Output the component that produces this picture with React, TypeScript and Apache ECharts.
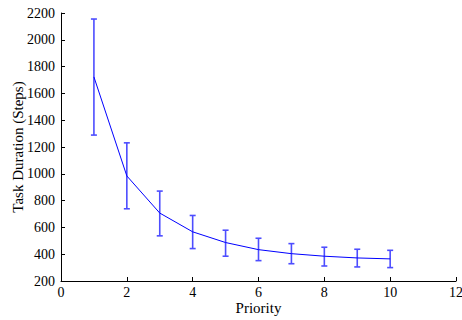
import React, { useEffect, useRef } from "react";
import * as echarts from "echarts";

const priorities = [1, 2, 3, 4, 5, 6, 7, 8, 9, 10];
const meanSteps = [1723, 984, 707, 567, 487, 434, 404, 385, 372, 365];
const upperSteps = [2155, 1231, 871, 689, 579, 519, 479, 452, 437, 429];
const lowerSteps = [1289, 739, 537, 442, 385, 352, 329, 312, 305, 300];

const FONT = "'Liberation Serif', 'DejaVu Serif', serif";

export default function App() {
  const ref = useRef<HTMLDivElement>(null);
  useEffect(() => {
    if (!ref.current) return;
    const chart = echarts.init(ref.current, undefined, { renderer: "svg" });
    const lineData = priorities.map((p, i) => [p, meanSteps[i]]);
    const errData = priorities.map((p, i) => [p, lowerSteps[i], upperSteps[i]]);
    chart.setOption({
      animation: false,
      textStyle: { fontFamily: FONT },
      grid: { left: 61, right: 6, top: 13, bottom: 39, outerBoundsMode: "none", containLabel: false },
      xAxis: {
        type: "value",
        min: 0,
        max: 12,
        interval: 2,
        name: "Priority",
        nameLocation: "middle",
        nameGap: 19,
        nameMoveOverlap: false,
        nameTextStyle: { fontFamily: FONT, fontSize: 15, color: "#000", verticalAlign: "top" },
        axisLine: { show: true, lineStyle: { color: "#000", width: 1 } },
        axisTick: { show: true, inside: true, length: 4, lineStyle: { color: "#000" } },
        axisLabel: { fontFamily: FONT, fontSize: 14, color: "#000", margin: 4, formatter: (v: number) => String(v) },
        splitLine: { show: false },
      },
      yAxis: {
        type: "value",
        min: 200,
        max: 2200,
        interval: 200,
        name: "Task Duration (Steps)",
        nameLocation: "middle",
        nameGap: 43,
        nameMoveOverlap: false,
        nameTextStyle: { fontFamily: FONT, fontSize: 15, color: "#000", verticalAlign: "middle" },
        axisLine: { show: true, lineStyle: { color: "#000", width: 1 } },
        axisTick: { show: true, inside: true, length: 4, lineStyle: { color: "#000" } },
        axisLabel: { fontFamily: FONT, fontSize: 14, color: "#000", margin: 6, formatter: (v: number) => String(v) },
        splitLine: { show: false },
      },
      series: [
        {
          type: "line",
          data: lineData,
          symbol: "none",
          lineStyle: { color: "#0000ff", width: 1 },
          z: 3,
        },
        {
          type: "custom",
          data: errData,
          z: 2,
          renderItem: (params: any, api: any) => {
            const x = api.value(0);
            const lo = api.coord([x, api.value(1)]);
            const hi = api.coord([x, api.value(2)]);
            const cap = 3;
            const style = { stroke: "#4d4dff", lineWidth: 1.6 };
            return {
              type: "group",
              children: [
                { type: "line", shape: { x1: hi[0], y1: hi[1], x2: lo[0], y2: lo[1] }, style },
                { type: "line", shape: { x1: hi[0] - cap, y1: hi[1], x2: hi[0] + cap, y2: hi[1] }, style },
                { type: "line", shape: { x1: lo[0] - cap, y1: lo[1], x2: lo[0] + cap, y2: lo[1] }, style },
              ],
            };
          },
        },
      ],
    });
    return () => chart.dispose();
  }, []);
  return <div ref={ref} style={{ width: 462, height: 320, position: "absolute", left: 0, top: 0 }} />;
}
